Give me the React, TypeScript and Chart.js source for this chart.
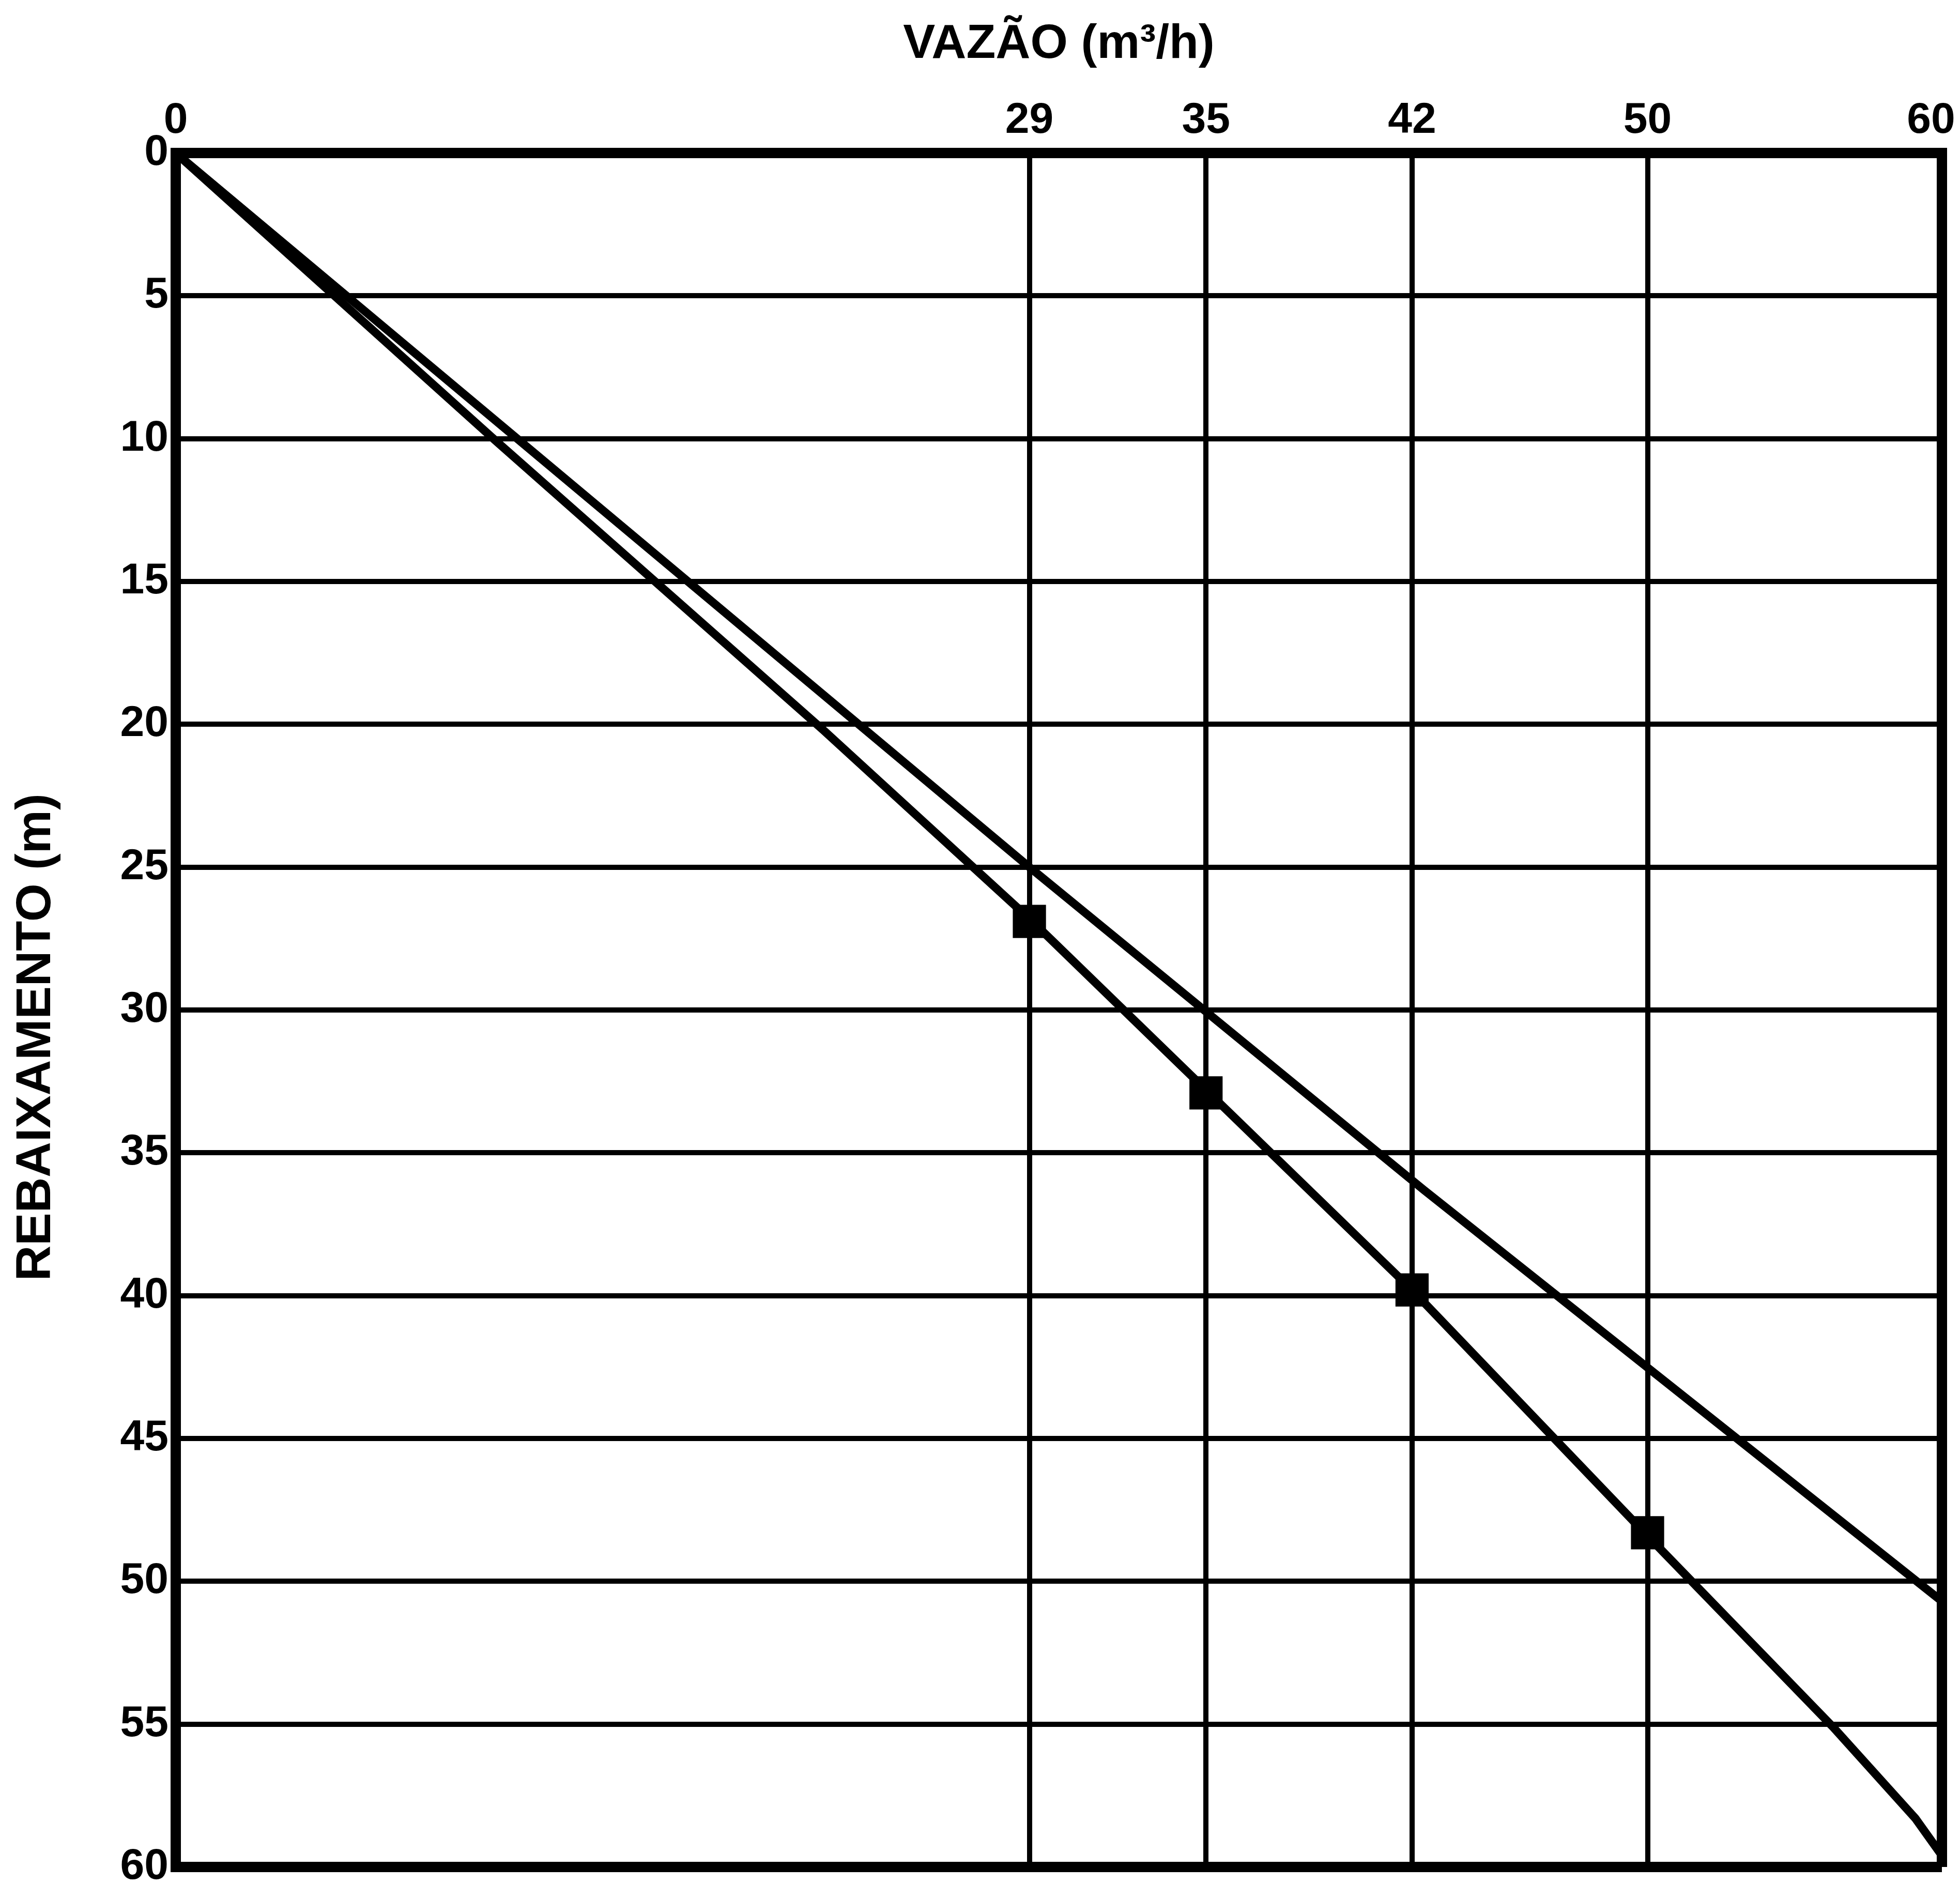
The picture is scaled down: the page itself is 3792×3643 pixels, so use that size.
import React, { useEffect, useRef } from 'react';
import { Chart, registerables } from 'chart.js';

Chart.register(...registerables);

// ---- data ----
const xTickValues = [0, 29, 35, 42, 50, 60];
const yTickStep = 5;
const xMin = 0;
const xMax = 60;
const yMin = 0;
const yMax = 60;

// measured points (squares)
const measuredQ = [29, 35, 42, 50];
const measuredS = [26.9, 32.9, 39.8, 48.3];

// curve through the measured points
const curveQ = [0, 10.9, 22.0, 29.1, 35.1, 42.0, 49.9, 56.3, 59.1, 60];
const curveS = [0, 10.1, 20.2, 26.9, 32.9, 39.8, 48.3, 55.1, 58.3, 59.6];

// straight (upper) line
const lineQ = [0, 29, 42.4, 60];
const lineS = [0, 25.0, 36.3, 50.7];

const xTitle = 'VAZÃO (m³/h)';
const yTitle = 'REBAIXAMENTO (m)';

const FONT = "'Liberation Sans', Arial, Helvetica, sans-serif";

const W = 3792;
const H = 3643;

const toXY = (xs: number[], ys: number[]) => xs.map((x, i) => ({ x, y: ys[i] }));

export default function App() {
  const ref = useRef<HTMLCanvasElement | null>(null);

  useEffect(() => {
    if (!ref.current) return;
    const edgeWidth = (ctx: any) => {
      const v = ctx && ctx.tick ? ctx.tick.value : null;
      return v === 0 || v === 60 ? 20 : 10;
    };
    const chart = new Chart(ref.current, {
      type: 'line',
      data: {
        datasets: [
          {
            label: 'measured',
            data: toXY(measuredQ, measuredS),
            showLine: false,
            pointStyle: 'rect',
            pointRadius: 44,
            pointBorderWidth: 2,
            pointBackgroundColor: '#000',
            pointBorderColor: '#000',
            borderColor: '#000',
            backgroundColor: '#000',
          },
          {
            label: 'curve',
            data: toXY(curveQ, curveS),
            borderColor: '#000',
            borderWidth: 16,
            pointRadius: 0,
            tension: 0,
            fill: false,
          },
          {
            label: 'line',
            data: toXY(lineQ, lineS),
            borderColor: '#000',
            borderWidth: 16,
            pointRadius: 0,
            tension: 0,
            fill: false,
          },
        ],
      },
      options: {
        responsive: false,
        animation: false,
        devicePixelRatio: 1,
        layout: { autoPadding: false, padding: { left: 0, top: 0, right: 35, bottom: 31 } },
        plugins: {
          legend: { display: false },
          tooltip: { enabled: false },
        },
        scales: {
          x: {
            type: 'linear',
            position: 'top',
            min: xMin,
            max: xMax,
            afterBuildTicks: (s: any) => {
              s.ticks = xTickValues.map((v) => ({ value: v }));
            },
            afterFit: (s: any) => {
              s.height = 296;
              s.paddingLeft = 0;
              s.paddingRight = 0;
            },
            ticks: {
              autoSkip: false,
              maxRotation: 0,
              padding: 12,
              color: '#000',
              font: { family: FONT, size: 84, weight: 'bold' },
              callback: (v: any) => (v === 60 ? '60\u2002' : String(v)),
            },
            grid: {
              drawTicks: false,
              color: '#000',
              lineWidth: edgeWidth,
            },
            border: { display: true, color: '#000', width: 20 },
            title: {
              display: true,
              text: xTitle,
              color: '#000',
              font: { family: FONT, size: 93, weight: 'bold' },
              padding: { top: 31, bottom: 0 },
            },
          },
          y: {
            type: 'linear',
            reverse: true,
            min: yMin,
            max: yMax,
            afterFit: (s: any) => {
              s.width = 340;
              s.paddingTop = 0;
              s.paddingBottom = 0;
            },
            ticks: {
              stepSize: yTickStep,
              padding: 14,
              color: '#000',
              font: { family: FONT, size: 84, weight: 'bold' },
            },
            grid: {
              drawTicks: false,
              color: '#000',
              lineWidth: edgeWidth,
            },
            border: { display: true, color: '#000', width: 20 },
            title: {
              display: true,
              text: yTitle + '    ',
              color: '#000',
              font: { family: FONT, size: 95, weight: 'bold' },
              padding: { top: 14, bottom: 0 },
            },
          },
        },
      } as any,
    });
    return () => chart.destroy();
  }, []);

  return (
    <div style={{ position: 'absolute', left: 0, top: 0, width: W, height: H, background: '#fff' }}>
      <canvas ref={ref} width={W} height={H} style={{ display: 'block', width: W, height: H }} />
    </div>
  );
}
